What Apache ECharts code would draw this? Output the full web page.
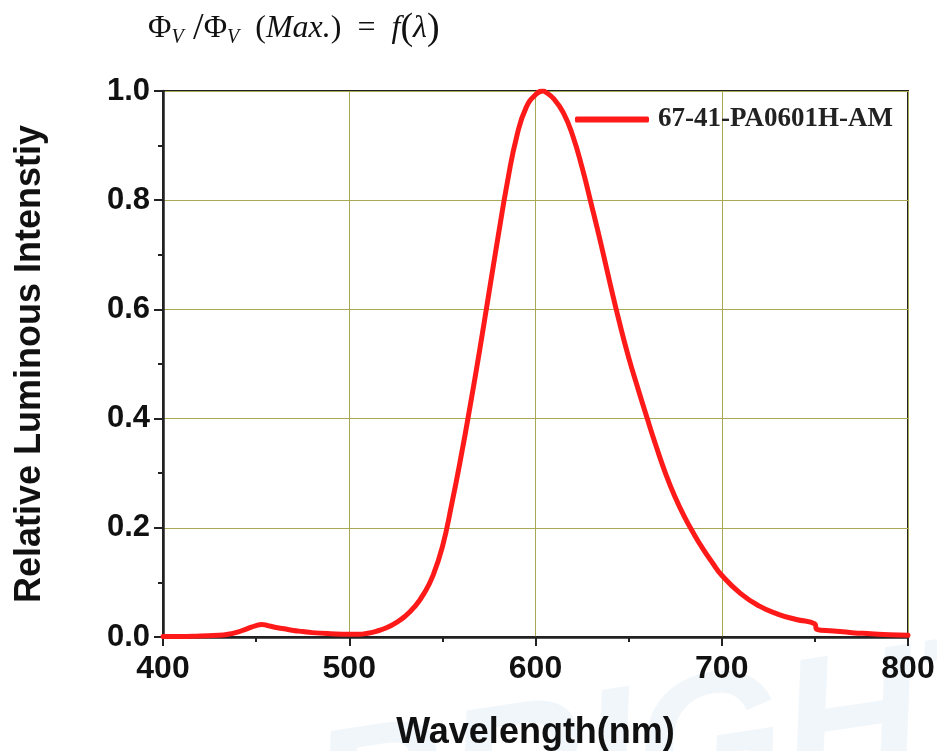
<!DOCTYPE html>
<html>
<head>
<meta charset="utf-8">
<script src="https://cdn.jsdelivr.net/npm/echarts@6/dist/echarts.min.js"></script>
<style>html,body{margin:0;padding:0;background:#fff}#c{width:937px;height:751px}</style>
</head>
<body>
<div id="c"></div>
<script>
const seriesName = '67-41-PA0601H-AM';
const wavelength = [400,410,420,430,435,440,445,450,453,456,460,465,470,475,480,490,500,505,510,515,520,525,530,535,540,545,550,555,560,565,570,575,580,585,590,595,600,604,605,610,615,620,625,630,635,640,645,650,655,660,665,670,675,680,685,690,695,700,710,720,730,740,750,751,760,770,780,790,800];
const intensity = [0.001,0.001,0.002,0.003,0.005,0.009,0.015,0.021,0.023,0.021,0.018,0.015,0.012,0.010,0.008,0.006,0.005,0.005,0.007,0.011,0.017,0.026,0.038,0.055,0.079,0.113,0.165,0.243,0.330,0.425,0.525,0.630,0.735,0.835,0.918,0.970,0.993,1.000,0.999,0.985,0.960,0.918,0.860,0.792,0.722,0.648,0.577,0.512,0.455,0.400,0.347,0.298,0.256,0.220,0.189,0.161,0.136,0.113,0.080,0.057,0.042,0.032,0.024,0.014,0.011,0.008,0.006,0.004,0.003];
const xTicks = [400,500,600,700,800];
const yTicks = [0.0,0.2,0.4,0.6,0.8,1.0];

const chart = echarts.init(document.getElementById('c'));
const data = wavelength.map((w,i)=>[w,intensity[i]]);
const gridColor = '#a9a955';
chart.setOption({
  backgroundColor:'#fff',
  animation:false,
  grid:{left:163,right:29,top:91,bottom:114,containLabel:false,outerBoundsMode:'none',show:true,borderColor:'#222',borderWidth:2,backgroundColor:'transparent'},
  graphic:[
    {type:'text',left:300,top:610,z:-10,silent:true,rotation:0.15,
     style:{text:'BRIGHT',font:'italic bold 190px "Liberation Sans"',fill:'rgba(215,230,242,0.35)'}},
    {type:'text',left:148,top:10,
     style:{rich:{
       p:{fontFamily:'Liberation Serif',fontSize:32,fill:'#111'},
       b:{fontFamily:'Liberation Serif',fontSize:38,fill:'#111'},
       s:{fontFamily:'Liberation Serif',fontStyle:'italic',fontSize:20,fill:'#111',padding:[18,0,0,0]},
       i:{fontFamily:'Liberation Serif',fontStyle:'italic',fontSize:32,fill:'#111'}
     },text:'{p|Φ}{s|V}{b| /}{p|Φ}{s|V}{p|  (}{i|Max.}{p|)  =  }{i|f}{b|(}{i|λ}{b|)}'}}
  ],
  legend:{show:true,left:570,top:101,itemWidth:74,itemHeight:6,icon:'roundRect',
    data:[seriesName],
    textStyle:{fontFamily:'Liberation Serif',fontWeight:'bold',fontSize:27,color:'#222',padding:[0,0,0,4]}},
  xAxis:{type:'value',min:400,max:800,interval:100,
    name:'Wavelength(nm)',nameLocation:'middle',nameGap:78,
    nameTextStyle:{fontFamily:'Liberation Sans',fontWeight:'bold',fontSize:36,color:'#111'},
    axisLine:{show:true,lineStyle:{color:'#222',width:2.5}},
    axisTick:{show:true,inside:false,length:9,lineStyle:{color:'#222',width:2}},
    minorTick:{show:true,splitNumber:2,length:5,lineStyle:{color:'#222',width:2}},
    axisLabel:{fontFamily:'Liberation Sans',fontWeight:'bold',fontSize:32,color:'#111',margin:16,
      formatter:v=>xTicks.includes(v)?String(v):''},
    splitLine:{show:true,lineStyle:{color:gridColor,width:1}}},
  yAxis:{type:'value',min:0,max:1,interval:0.2,
    name:'Relative Luminous Intenstiy',nameLocation:'middle',nameGap:115,nameRotate:90,
    nameTextStyle:{fontFamily:'Liberation Sans',fontWeight:'bold',fontSize:36,color:'#111'},
    axisLine:{show:true,lineStyle:{color:'#222',width:2.5}},
    axisTick:{show:true,inside:false,length:9,lineStyle:{color:'#222',width:2}},
    minorTick:{show:true,splitNumber:2,length:5,lineStyle:{color:'#222',width:2}},
    axisLabel:{fontFamily:'Liberation Sans',fontWeight:'bold',fontSize:31,color:'#111',margin:13,
      formatter:v=>{const t=yTicks.find(k=>Math.abs(k-v)<1e-6);return t===undefined?'':t.toFixed(1);}},
    splitLine:{show:true,lineStyle:{color:gridColor,width:1}}},
  series:[{name:seriesName,type:'line',data:data,showSymbol:false,smooth:true,
    lineStyle:{color:'#ff1a1a',width:5,cap:'round',join:'round'},itemStyle:{color:'#ff1a1a'}}]
});
</script>
</body>
</html>
